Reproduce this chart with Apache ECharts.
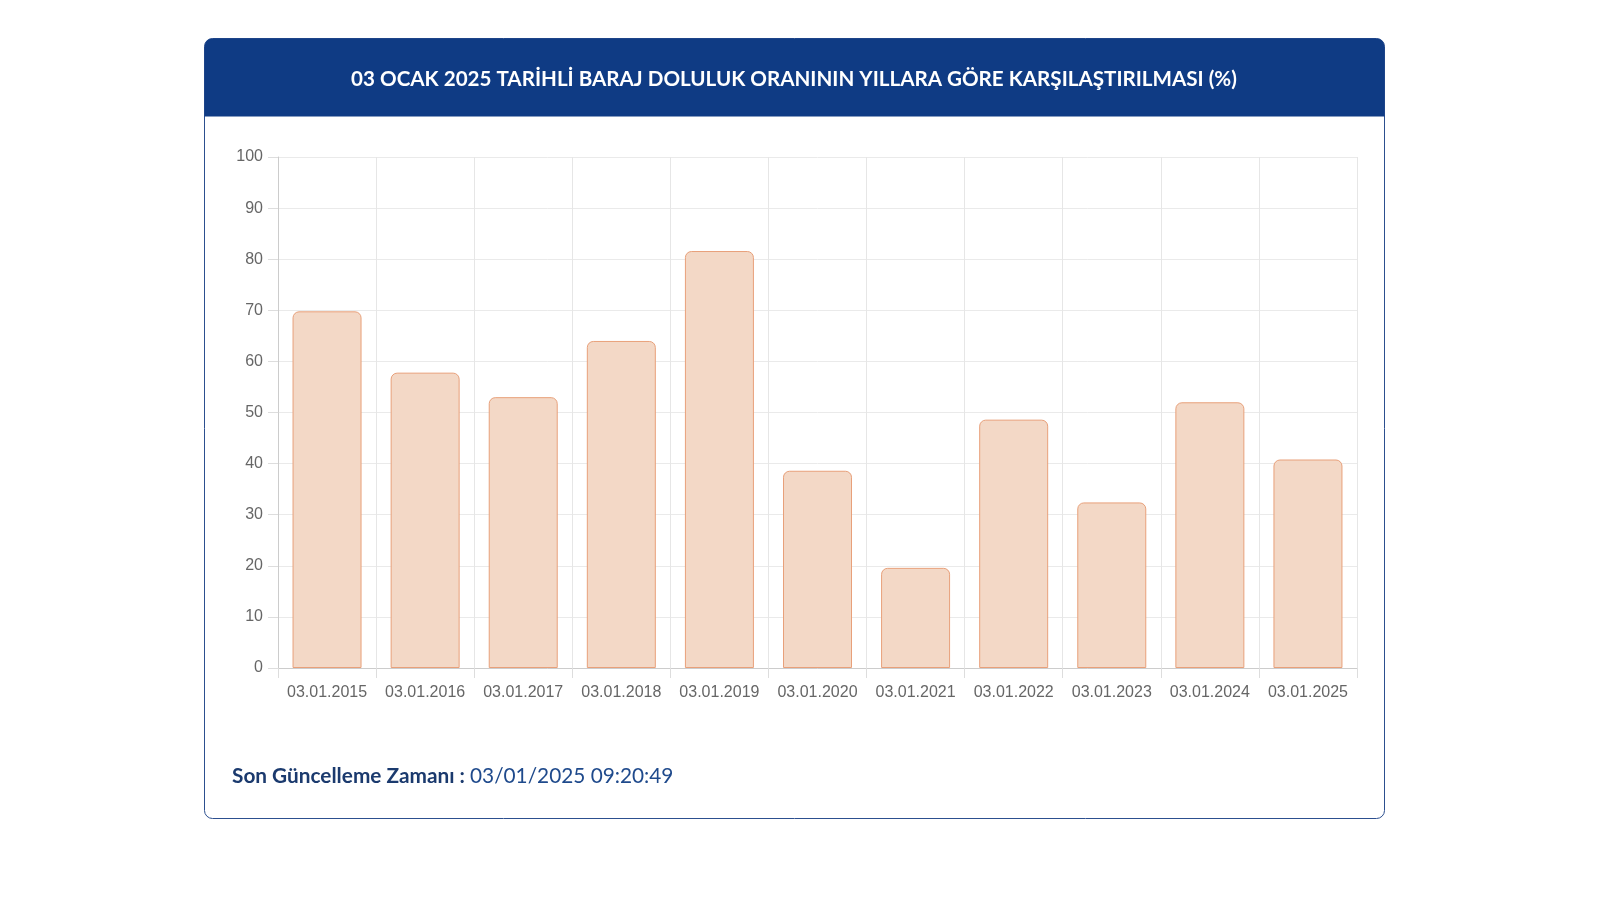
<!DOCTYPE html>
<html>
<head>
<meta charset="utf-8">
<script src="https://cdn.jsdelivr.net/npm/echarts@6/dist/echarts.min.js"></script>
<style>
html,body{margin:0;padding:0;background:#fff;}
#chart{width:1600px;height:900px;}
</style>
</head>
<body>
<div id="chart"></div>
<script>
const titleText = '03 OCAK 2025 TARİHLİ BARAJ DOLULUK ORANININ YILLARA GÖRE KARŞILAŞTIRILMASI (%)';
const categories = ['03.01.2015','03.01.2016','03.01.2017','03.01.2018','03.01.2019','03.01.2020','03.01.2021','03.01.2022','03.01.2023','03.01.2024','03.01.2025'];
const values = [69.8, 57.8, 53.0, 64.0, 81.6, 38.6, 19.6, 48.6, 32.4, 52.0, 40.8];
const footerLabel = 'Son Güncelleme Zamanı : ';
const footerValue = '03/01/2025 09:20:49';

const chart = echarts.init(document.getElementById('chart'));
chart.setOption({
  backgroundColor: '#ffffff',
  animation: false,
  graphic: [
    { type: 'rect', z: -10, shape: { x: 204.5, y: 38.5, width: 1180, height: 780, r: 8 },
      style: { fill: '#ffffff', stroke: '#2c4f8f', lineWidth: 1 } },
    { type: 'rect', z: -9, shape: { x: 204.5, y: 38.5, width: 1180, height: 78, r: [8, 8, 0, 0] },
      style: { fill: '#0f3b84' } },
    { type: 'text', left: 232, top: 766,
      style: { text: '{b|' + footerLabel + '}{n|' + footerValue + '}',
        rich: {
          b: { fontFamily: 'Lato', fontWeight: 'bold', fontSize: 20.8, fill: '#1b3a6e' },
          n: { fontFamily: 'Lato', fontSize: 20.8, fill: '#1f4a8c' }
        } } }
  ],
  title: {
    text: titleText,
    left: 789, top: 64, textAlign: 'center',
    textStyle: { color: '#ffffff', fontFamily: 'Lato', fontWeight: 'bold', fontSize: 20.6 }
  },
  grid: { left: 278, right: 243, top: 157, bottom: 232, containLabel: false },
  xAxis: {
    type: 'category',
    data: categories,
    boundaryGap: true,
    axisLine: { show: true, lineStyle: { color: '#cccccc', width: 1 } },
    axisTick: { show: true, length: 10, interval: 0, lineStyle: { color: '#dddddd' } },
    axisLabel: { color: '#666666', fontFamily: 'Liberation Sans', fontSize: 16, margin: 17, interval: 0 },
    splitLine: { show: true, interval: 0, lineStyle: { color: '#e6e6e6', width: 1 } }
  },
  yAxis: {
    type: 'value',
    min: 0, max: 100, interval: 10,
    axisLine: { show: true, lineStyle: { color: '#cccccc', width: 1 } },
    axisTick: { show: true, length: 10, lineStyle: { color: '#dddddd' } },
    axisLabel: { color: '#666666', fontFamily: 'Liberation Sans', fontSize: 16, margin: 15 },
    splitLine: { show: true, lineStyle: { color: '#eaeaea', width: 1 } }
  },
  series: [{
    type: 'bar',
    data: values,
    barWidth: 69,
    itemStyle: { color: '#f3d8c6', borderColor: '#e8a07a', borderWidth: 1, borderRadius: [6, 6, 0, 0] }
  }]
});
</script>
</body>
</html>
